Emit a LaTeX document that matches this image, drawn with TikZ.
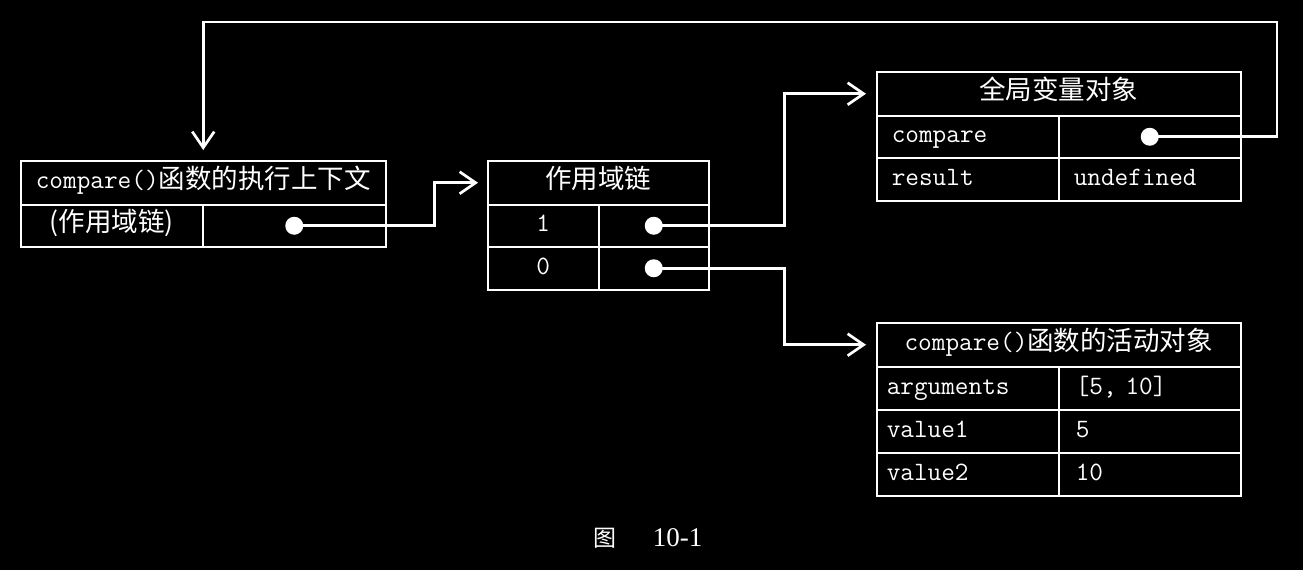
\documentclass[tikz,border=0pt]{standalone}
\usepackage{fontspec}
\newfontfamily\cjk{Noto Sans CJK SC}
\newfontfamily\capfont{Liberation Serif}
\usepackage{tikz}
\usetikzlibrary{arrows.meta}
\newcommand\fn[1]{{\ttfamily #1}}

\begin{document}
\begin{tikzpicture}[x=1pt,y=-1pt,
 cell/.style={draw=white,text=white,line width=1.5pt,anchor=north west,inner sep=0pt,text height=17pt,text depth=5pt,font=\ttfamily\fontsize{26.5}{30}\selectfont},
 head/.style={cell,font=\cjk\fontsize{26.5}{30}\selectfont,minimum height=44pt},
 keycell/.style 2 args={cell,align=left,inner xsep=#1,text width=#2},
 dot/.style={circle,fill=white,minimum size=18pt,inner sep=0pt},
 link/.style={draw=white,line width=2.7pt,-{Straight Barb[length=16pt,width=22pt]}}]
 \fill[black] (0,0) rectangle (1303,570);
 \useasboundingbox (0,0) rectangle (1303,570);

 \node[head,minimum width=365pt] (ctxhead) at (20,160) {\fn{compare()}函数的执行上下文};
 \node[cell,font=\cjk\fontsize{26.5}{30}\selectfont,minimum width=182pt,minimum height=42pt] (ctxkey) at (20,204) {(作用域链)};
 \node[cell,minimum width=183pt,minimum height=42pt] (ctxval) at (202,204) {};

 \node[head,minimum width=221pt] (chainhead) at (487,160) {作用域链};
 \node[cell,minimum width=111pt,minimum height=42pt] (chainkeyA) at (487,204) {1};
 \node[cell,minimum width=110pt,minimum height=42pt] (chainvalA) at (598,204) {};
 \node[cell,minimum width=111pt,minimum height=43pt] (chainkeyB) at (487,246) {0};
 \node[cell,minimum width=110pt,minimum height=43pt] (chainvalB) at (598,246) {};

 \node[head,minimum width=364pt] (globhead) at (876,71) {全局变量对象};
 \node[keycell={15pt}{152pt},minimum height=42pt] (globkeyA) at (876,115) {compare};
 \node[cell,minimum width=182pt,minimum height=42pt] (globvalA) at (1058,115) {};
 \node[keycell={15pt}{152pt},minimum height=43pt] (globkeyB) at (876,157) {result};
 \node[keycell={15pt}{152pt},minimum height=43pt] (globvalB) at (1058,157) {undefined};

 \node[head,minimum width=364pt] (acthead) at (876,322) {\fn{compare()}函数的活动对象};
 \node[keycell={10pt}{162pt},minimum height=43pt] (actkeyA) at (876,366) {arguments};
 \node[keycell={17pt}{148pt},minimum height=43pt] (actvalA) at (1058,366) {[5, 10]};
 \node[keycell={10pt}{162pt},minimum height=43pt] (actkeyB) at (876,409) {value1};
 \node[keycell={17pt}{148pt},minimum height=43pt] (actvalB) at (1058,409) {5};
 \node[keycell={10pt}{162pt},minimum height=43pt] (actkeyC) at (876,452) {value2};
 \node[keycell={17pt}{148pt},minimum height=43pt] (actvalC) at (1058,452) {10};

 \node[dot] (ctxdot) at (ctxval.center) {};
 \node[dot] (dotA) at (chainvalA.center) {};
 \node[dot] (dotB) at (chainvalB.center) {};
 \node[dot] (cmpdot) at (globvalA.center) {};

 \draw[link] (ctxdot.center) -- ++(140,0) |- ([xshift=-9pt]chainhead.west);
 \draw[link] (dotA.center) -- ++(131,0) |- ([xshift=-10pt]globhead.west);
 \draw[link] (dotB.center) -- ++(131,0) |- ([xshift=-10pt]acthead.west);
 \coordinate (turn) at (1277,22);
 \draw[link] (cmpdot.center) -| (turn) -| ([yshift=10pt]ctxhead.north);

 \node[text=white] (caption) at (648,538) {{\cjk\fontsize{23}{26}\selectfont 图}\hspace{36pt}{\capfont\fontsize{27}{30}\selectfont 10-1}};
\end{tikzpicture}
\end{document}
